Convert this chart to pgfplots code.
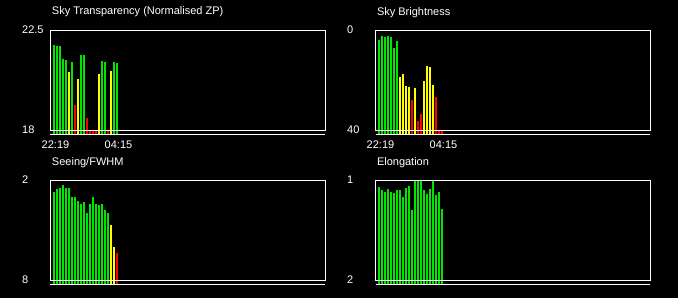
\documentclass[border=0pt]{standalone}
\usepackage{pgfplots}
\pgfplotsset{compat=1.18}
\usepackage{fontspec}
\setmainfont{Liberation Sans}
\definecolor{bgreen}{RGB}{0,230,0}
\definecolor{byellow}{RGB}{255,255,0}
\definecolor{bred}{RGB}{255,0,0}
\pgfplotsset{
  panel/.style={
    scale only axis, width=275pt, height=104pt,
    anchor=north west,
    clip mode=individual,
    axis line style={draw=none},
    major tick length=0pt,
    xmin=-0.1667, xmax=91.5,
    xtick=\empty,
    tick label style={font=\fontsize{11}{13}\selectfont, text=white, inner sep=0pt},
    yticklabel style={anchor=base west, xshift=-28.5pt, yshift=-2.8pt},
    xticklabel style={anchor=base, yshift=-13.9pt},
    title style={at={(0,1)}, anchor=base west, xshift=1.3pt, yshift=9.5pt, inner sep=0pt,
                 font=\fontsize{11}{13}\selectfont, text=white},
    /pgf/number format/assume math mode=true,
  },
  bars/.style n args={3}{no markers, draw=none,
    error bars/.cd, y dir=#2, y fixed=#3, error mark=none,
    error bar style={line width=2pt, draw=#1, solid}},
}
\begin{document}
\begin{tikzpicture}
\fill[black] (0,0) rectangle (678pt,298pt);

% Panel 1: Sky Transparency
\begin{axis}[panel, at={(50.5pt,267.5pt)},
  title={Sky Transparency (Normalised ZP)},
  ymin=17.82, ymax=22.5, ytick={18,22.5}, yticklabels={18,22.5},
  xtick={1.5,22.5}, xticklabels={22:19,04:15}]
\addplot[bars={bgreen}{minus}{10}] coordinates {(1,21.85)(2,21.80)(3,21.80)(4,21.22)(5,21.17)(7,21.08)(10,21.40)(11,21.40)(17,21.13)(18,21.08)(21,21.08)(22,21.04)};
\addplot[bars={byellow}{minus}{10}] coordinates {(6,20.63)(9,20.32)(16,20.54)(20,20.68)};
\addplot[bars={bred}{minus}{10}] coordinates {(8,19.15)(12,18.56)(13,18.0)(14,18.0)(15,18.0)(19,18.0)};
\draw[white, line width=1pt] (axis cs:-0.1667,18) rectangle (axis cs:91.5,22.5);
\draw[white, line width=1pt] (axis cs:-0.1667,17.82) -- (axis cs:91.5,17.82);
\end{axis}

% Panel 2: Sky Brightness
\begin{axis}[panel, at={(375.5pt,267.5pt)},
  title={Sky Brightness}, y dir=reverse,
  ymin=0, ymax=41.6, ytick={0,40}, yticklabels={0,40},
  xtick={1.5,22.5}, xticklabels={22:19,04:15}]
\addplot[bars={bgreen}{plus}{100}] coordinates {(1,3.8)(2,2.2)(3,2.6)(4,2.2)(5,2.6)(6,7.0)(7,4.2)};
\addplot[bars={byellow}{plus}{100}] coordinates {(8,18.6)(9,17.4)(10,22.2)(11,22.6)(13,23.0)(16,20.2)(17,14.2)(18,14.6)(19,21.8)};
\addplot[bars={bred}{plus}{100}] coordinates {(12,27.8)(14,36.2)(15,33.4)(20,26.6)(21,40)(22,40)};
\draw[white, line width=1pt] (axis cs:-0.1667,0) rectangle (axis cs:91.5,40);
\draw[white, line width=1pt] (axis cs:-0.1667,41.6) -- (axis cs:91.5,41.6);
\end{axis}

% Panel 3: Seeing/FWHM
\begin{axis}[panel, at={(50.5pt,117.5pt)},
  title={Seeing/FWHM}, y dir=reverse,
  ymin=2, ymax=8.24, ytick={2,8}, yticklabels={2,8}]
\addplot[bars={bgreen}{plus}{10}] coordinates {(1,2.69)(2,2.51)(3,2.45)(4,2.27)(5,2.45)(6,2.45)(7,2.99)(8,2.99)(9,3.23)(10,3.41)(11,3.29)(12,3.95)(13,3.41)(14,2.99)(15,3.41)(16,3.47)(17,3.41)(18,3.77)(19,3.95)};
\addplot[bars={byellow}{plus}{10}] coordinates {(20,4.67)(21,5.99)};
\addplot[bars={bred}{plus}{10}] coordinates {(22,6.35)};
\draw[white, line width=1pt] (axis cs:-0.1667,2) rectangle (axis cs:91.5,8);
\draw[white, line width=1pt] (axis cs:-0.1667,8.24) -- (axis cs:91.5,8.24);
\end{axis}

% Panel 4: Elongation
\begin{axis}[panel, at={(375.5pt,117.5pt)},
  title={Elongation}, y dir=reverse,
  ymin=1, ymax=2.04, ytick={1,2}, yticklabels={1,2}]
\addplot[bars={bgreen}{plus}{2}] coordinates {(1,1.065)(2,1.095)(3,1.115)(4,1.085)(5,1.115)(6,1.125)(7,1.095)(8,1.095)(9,1.165)(10,1.075)(11,1.055)(12,1.295)(13,1.0)(14,1.0)(15,1.0)(16,1.095)(17,1.135)(18,1.085)(19,1.0)(20,1.145)(21,1.115)(22,1.285)};
\draw[white, line width=1pt] (axis cs:-0.1667,1) rectangle (axis cs:91.5,2);
\draw[white, line width=1pt] (axis cs:-0.1667,2.04) -- (axis cs:91.5,2.04);
\end{axis}

\pgfresetboundingbox
\path[use as bounding box] (0,0) rectangle (678pt,298pt);
\end{tikzpicture}
\end{document}
